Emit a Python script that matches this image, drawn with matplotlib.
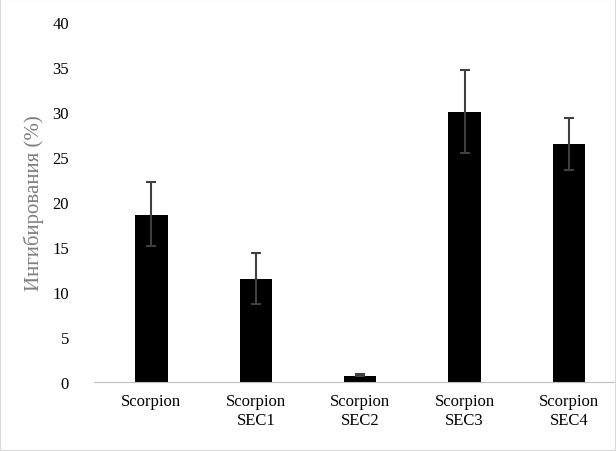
import matplotlib
matplotlib.use("Agg")
import matplotlib.pyplot as plt

categories = ["Scorpion", "Scorpion\nSEC1", "Scorpion\nSEC2", "Scorpion\nSEC3", "Scorpion\nSEC4"]
values = [18.6, 11.5, 0.7, 30.0, 26.5]
err_low = [3.5, 2.8, 0.0, 4.6, 2.9]
err_high = [3.6, 2.8, 0.2, 4.7, 2.8]

plt.rcParams['font.family'] = ['Liberation Serif', 'DejaVu Serif']
fig = plt.figure(figsize=(6.16, 4.52), dpi=100)
ax = fig.add_axes([94/616, 1-383/452, (616-94)/616, 360/452])
x = range(len(categories))
ax.bar(x, values, width=0.31, color='black', zorder=2)
ax.errorbar(x, values, yerr=[err_low, err_high], fmt='none', ecolor='#404040',
            elinewidth=1.5, capsize=3.5, capthick=1.5, zorder=3)
ax.set_ylim(0, 40)
ax.set_xlim(-0.55, 4.45)
ax.set_yticks(range(0, 41, 5))
ax.set_xticks(list(x))
ax.set_xticklabels(categories, fontsize=12)
ax.tick_params(axis='y', labelsize=12, length=0, pad=18)
ax.tick_params(axis='x', length=0, pad=8)
for s in ['top', 'right', 'left']:
    ax.spines[s].set_visible(False)
ax.spines['bottom'].set_color('#bfbfbf')
ax.set_ylabel("Ингибирования (%)", fontsize=15, color='#7f7f7f', labelpad=6)
fig.patches.append(plt.Rectangle((0, 0), 1, 1, transform=fig.transFigure,
                                 fill=False, edgecolor='#d9d9d9', linewidth=1.5))
fig.savefig("out.png", dpi=100)
